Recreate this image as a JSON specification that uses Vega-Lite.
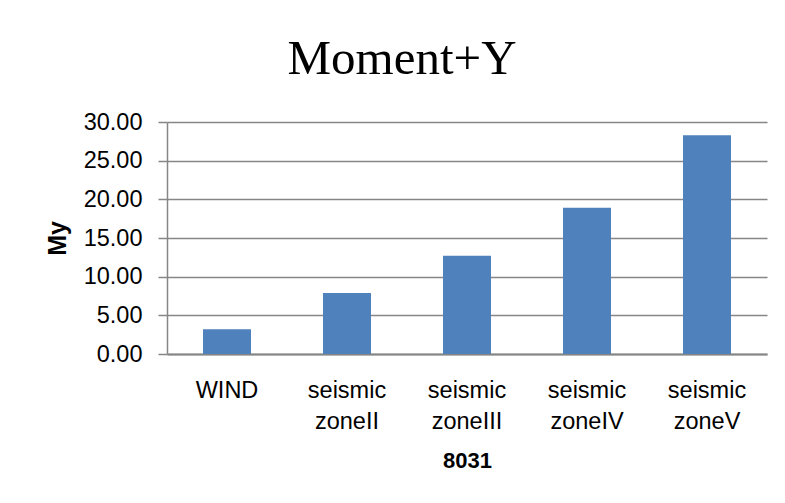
{
  "$schema": "https://vega.github.io/schema/vega-lite/v6.json",
  "width": 600,
  "height": 232,
  "autosize": {"type": "none"},
  "padding": {"left": 167, "top": 122, "right": 18, "bottom": 149},
  "background": "white",
  "title": {
    "text": "Moment+Y",
    "font": "Liberation Serif",
    "fontSize": 49,
    "fontWeight": "normal",
    "color": "black",
    "anchor": "middle",
    "baseline": "alphabetic",
    "dx": -65,
    "dy": 43,
    "offset": 30
  },
  "data": {
    "values": [
      {"case": "WIND", "My": 3.2},
      {"case": "seismic zoneII", "My": 7.9},
      {"case": "seismic zoneIII", "My": 12.7},
      {"case": "seismic zoneIV", "My": 18.9},
      {"case": "seismic zoneV", "My": 28.3}
    ]
  },
  "mark": {"type": "bar", "color": "#4F81BD"},
  "encoding": {
    "x": {
      "field": "case",
      "type": "nominal",
      "sort": null,
      "title": "8031",
      "scale": {"paddingInner": 0.6, "paddingOuter": 0.3},
      "axis": {
        "labelExpr": "split(datum.value, ' ')",
        "labelAngle": 0,
        "labelFont": "Liberation Sans",
        "labelFontSize": 23.5,
        "labelColor": "black",
        "labelLineHeight": 31,
        "labelPadding": 24,
        "ticks": false,
        "domainColor": "#868686",
        "domainWidth": 2,
        "titleFont": "Liberation Sans",
        "titleFontSize": 22,
        "titleFontWeight": "bold",
        "titleColor": "black",
        "titlePadding": 18
      }
    },
    "y": {
      "field": "My",
      "type": "quantitative",
      "title": "My",
      "scale": {"domain": [0, 30]},
      "axis": {
        "values": [0, 5, 10, 15, 20, 25, 30],
        "format": ".2f",
        "labelFont": "Liberation Sans",
        "labelFontSize": 23.5,
        "labelColor": "black",
        "labelPadding": 16,
        "tickSize": 9,
        "tickColor": "#868686",
        "tickWidth": 1.5,
        "domainColor": "#868686",
        "domainWidth": 1.5,
        "gridColor": "#868686",
        "gridWidth": 1.5,
        "titleFont": "Liberation Sans",
        "titleFontSize": 25,
        "titleFontWeight": "bold",
        "titleColor": "black",
        "titlePadding": 13
      }
    }
  },
  "config": {"view": {"stroke": null}}
}
